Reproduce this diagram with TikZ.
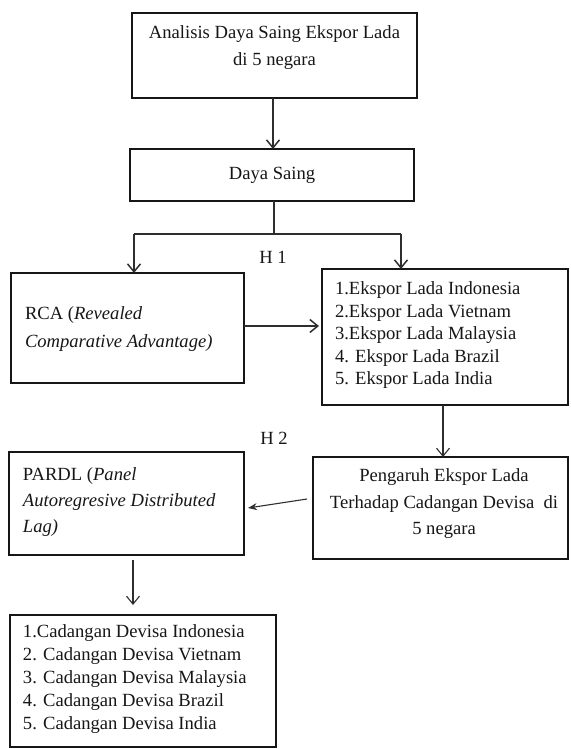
\documentclass[tikz,border=0pt]{standalone}
\usepackage{fontspec}
\setmainfont{Liberation Serif}
\usetikzlibrary{arrows.meta,calc}
\definecolor{ink}{HTML}{161616}
\definecolor{wire}{HTML}{2E2E2E}
\begin{document}
\begin{tikzpicture}[x=1pt,y=-1pt,
  box/.style={draw=ink, line width=2.5pt, rectangle, inner sep=0pt, outer sep=0pt},
  txt/.style={inner sep=0pt, outer sep=0pt, text=ink},
  conn/.style={draw=wire, line width=1.5pt},
  thinconn/.style={draw=wire, line width=1.1pt},
  arr/.style={-{Straight Barb[length=8pt,width=13pt]}},
  farr/.style={-{Stealth[length=9pt,width=7pt]}}
]
\useasboundingbox (0,0) rectangle (570,749);
% boxes
\node[box, minimum width=285pt, minimum height=85pt] (b1) at (274.5,55.5) {};
\node[box, minimum width=284pt, minimum height=52pt] (b2) at (272,175) {};
\node[box, minimum width=233pt, minimum height=110pt] (rca) at (127.5,328) {};
\node[box, minimum width=246pt, minimum height=136pt] (eks) at (445,337) {};
\node[box, minimum width=255pt, minimum height=102pt] (png) at (440.5,508) {};
\node[box, minimum width=235pt, minimum height=103pt] (pardl) at (126.5,503.5) {};
\node[box, minimum width=266pt, minimum height=132pt] (cad) at (143,681) {};
% texts
\node[txt, anchor=north, align=center, font=\fontsize{18.6}{27}\selectfont] (t1) at (274.5,25.5)
  {Analisis Daya Saing Ekspor Lada\\di 5 negara};
\node[txt, anchor=base, font=\fontsize{18.6}{22.5}\selectfont] (t2) at (272,179) {Daya Saing};
\node[txt, anchor=base, font=\fontsize{18.6}{22.5}\selectfont] (h1) at (273,263) {H 1};
\node[txt, anchor=north west, align=left, font=\fontsize{18.6}{28}\selectfont] (t3) at (25,307)
  {RCA (\textit{Revealed}\\\textit{Comparative Advantage)}};
\node[txt, anchor=north west, align=left, font=\fontsize{18.6}{22.5}\selectfont] (t4) at (335,282)
  {1.Ekspor Lada Indonesia\\2.Ekspor Lada Vietnam\\3.Ekspor Lada Malaysia\\4. Ekspor Lada Brazil\\5. Ekspor Lada India};
\node[txt, anchor=base, font=\fontsize{18.6}{22.5}\selectfont] (h2) at (274,444) {H 2};
\node[txt, anchor=north, align=center, font=\fontsize{18.6}{26.5}\selectfont] (t5) at (444,469)
  {Pengaruh Ekspor Lada\\Terhadap Cadangan Devisa\ \ di\\5 negara};
\node[txt, anchor=north west, align=left, font=\fontsize{18.6}{26}\selectfont] (t6) at (23,468)
  {PARDL (\textit{Panel}\\\textit{Autoregresive Distributed}\\\textit{Lag)}};
\node[txt, anchor=north west, align=left, font=\fontsize{18.6}{22.8}\selectfont] (t7) at (23,625)
  {1.Cadangan Devisa Indonesia\\2. Cadangan Devisa Vietnam\\3. Cadangan Devisa Malaysia\\4. Cadangan Devisa Brazil\\5. Cadangan Devisa India};
% connectors
\draw[conn, arr] ($(b1.south)+(-1.5,0)$) -- ($(b1.south |- b2.north)+(-1.5,0)$);
\coordinate (j) at ($(b2.south |- 0,234)+(2,0)$);
\coordinate (jl) at (134,234);
\coordinate (jr) at (401,234);
\draw[conn] ($(b2.south)+(2,0)$) -- (j);
\draw[conn] (jl) -- (jr);
\draw[conn, arr] (jl) -- (jl |- rca.north);
\draw[conn, arr] (jr) -- (jr |- eks.north);
\draw[conn, arr, shorten >=3pt] ($(rca.east)+(0,-2)$) -- ($(rca.east -| eks.west)+(0,-2)$);
\draw[thinconn, arr] ($(eks.south)+(-2,0)$) -- ($(eks.south |- png.north)+(-2,0)$);
\draw[thinconn, farr] ($(png.west)+(-6,-9)$) -- ($(pardl.east)+(4,4.5)$);
\draw[thinconn, arr] ($(pardl.south)+(6.5,5)$) -- ($(cad.north)+(-10,-10)$);
\end{tikzpicture}
\end{document}
